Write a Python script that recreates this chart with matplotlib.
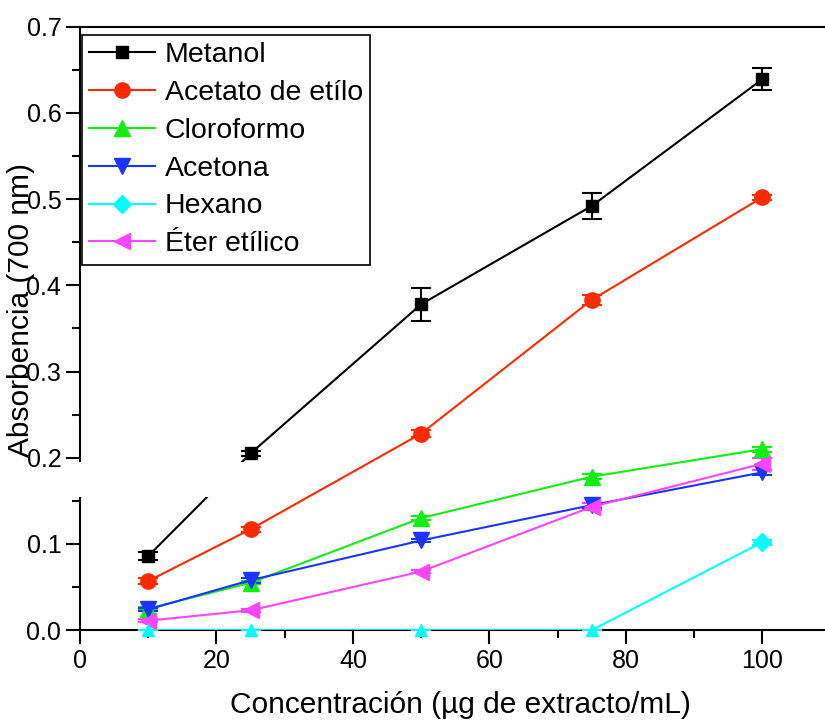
import numpy as np
import matplotlib
matplotlib.use("Agg")
import matplotlib.pyplot as plt
from matplotlib.patches import Rectangle
from matplotlib.lines import Line2D
from matplotlib.ticker import MultipleLocator, FormatStrFormatter

plt.rcParams['font.family'] = ['Liberation Sans', 'DejaVu Sans']

# concentrations (ug/mL)
conc = [10, 25, 50, 75, 100]

metanol = [0.086, 0.205, 0.378, 0.492, 0.639]
metanol_err = [0.005, 0.003, 0.019, 0.015, 0.013]
acetato = [0.057, 0.117, 0.228, 0.383, 0.502]
acetato_err = [0.003, 0.003, 0.004, 0.006, 0.003]
cloroformo = [0.025, 0.055, 0.130, 0.178, 0.210]
cloroformo_err = [0.002, 0.002, 0.002, 0.003, 0.003]
acetona = [0.024, 0.058, 0.104, 0.145, 0.183]
acetona_err = [0.002, 0.003, 0.002, 0.003, 0.003]
hexano = [0.0, 0.0, 0.0, 0.0, 0.102]
hexano_err = [0.0, 0.0, 0.0, 0.0, 0.003]
eter = [0.011, 0.023, 0.068, 0.143, 0.193]
eter_err = [0.002, 0.002, 0.002, 0.004, 0.007]

fig = plt.figure(figsize=(8.25, 7.21), dpi=100)
ax = fig.add_axes([0.097, 0.126, 0.903, 0.837])

series = [
    ("Metanol", metanol, metanol_err, "black", "s", 9),
    ("Acetato de etílo", acetato, acetato_err, "#ff2a00", "o", 11),
    ("Cloroformo", cloroformo, cloroformo_err, "#11ee11", "^", 11),
    ("Acetona", acetona, acetona_err, "#1a35ff", "v", 11),
    ("Hexano", hexano, hexano_err, "#00ffff", "D", 9),
    ("Éter etílico", eter, eter_err, "#ff44ff", "<", 11),
]

handles = []
for name, vals, err, col, mk, ms in series:
    every = [4] if name == "Hexano" else None
    ax.errorbar(conc, vals, yerr=err, color=col, lw=1.5, marker=mk, ms=ms,
                markevery=every, capsize=7, capthick=1.5, elinewidth=1.5, zorder=3)
    if name == "Hexano":
        # zero points are drawn as triangles in the original
        zx = [c for c, v in zip(conc, vals) if v == 0]
        zy = [v for v in vals if v == 0]
        ax.plot(zx, zy, ls='none', marker='^', ms=9, color=col, clip_on=False, zorder=4)
    handles.append(Line2D([], [], color=col, lw=1.5, marker=mk, ms=ms, label=name))

# white band hiding the axis break region
ax.add_patch(Rectangle((-0.02, 0.155), 0.02, 0.04,
                       transform=ax.get_yaxis_transform(), facecolor='white',
                       edgecolor='none', zorder=5, clip_on=False))
ax.add_patch(Rectangle((0, 0.155), 24.5, 0.04, facecolor='white',
                       edgecolor='none', zorder=5, clip_on=False))

ax.set_xlim(0, 109.2)
ax.set_ylim(0, 0.7)
ax.xaxis.set_major_locator(MultipleLocator(20))
ax.xaxis.set_minor_locator(MultipleLocator(10))
ax.yaxis.set_major_locator(MultipleLocator(0.1))
ax.yaxis.set_minor_locator(MultipleLocator(0.05))
ax.yaxis.set_major_formatter(FormatStrFormatter('%.1f'))
ax.tick_params(which='major', direction='out', length=10, width=1.5, labelsize=18)
ax.tick_params(which='minor', direction='out', length=6, width=1.5)
ax.tick_params(top=False, right=False)

ax.spines['right'].set_visible(False)
for s in ['left', 'bottom', 'top']:
    ax.spines[s].set_linewidth(1.5)

ax.set_xlabel('Concentración (µg de extracto/mL)', fontsize=21.5)
ax.set_ylabel('Absorbencia (700 nm)', fontsize=21.5)
ax.xaxis.set_label_coords(0.51, -0.1)
ax.yaxis.set_label_coords(-0.06, 0.53)

leg = ax.legend(handles=handles, loc='upper left', bbox_to_anchor=(0.003, 0.987),
                fontsize=20.5, frameon=True, fancybox=False, edgecolor='black',
                framealpha=1, handlelength=2.3, borderpad=0.25, labelspacing=0.42,
                handletextpad=0.35, borderaxespad=0, numpoints=1)
leg.get_frame().set_linewidth(1.2)
leg.set_zorder(7)

fig.savefig('out.png', dpi=100)
